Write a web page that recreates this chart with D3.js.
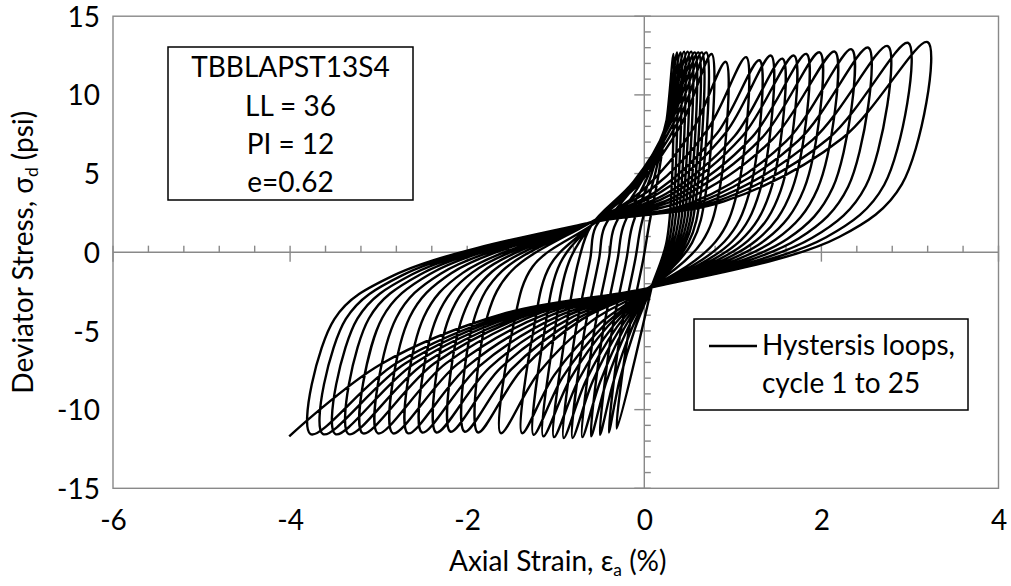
<!DOCTYPE html>
<html><head><meta charset="utf-8">
<script src="https://cdn.jsdelivr.net/npm/d3@7"></script>
<style>
html,body{margin:0;padding:0;background:#fff;}
svg{display:block;font-family:Lato,"Open Sans",sans-serif;}
</style></head><body>
<svg id="chart" width="1011" height="586"></svg>
<script>
// ---------- tick labels ----------
const xTickLabels = [-6, -4, -2, 0, 2, 4];
const yTickLabels = [-15, -10, -5, 0, 5, 10, 15];

// ---------- hysteresis loop key points (strain %, stress psi), cycles 1..25 ----------
const startPoint = [0.09, -2.05];
// bottom (compression) tips: start of each cycle, last one = end of record
const bottomTips = [[-0.31,-11.2],[-0.40,-11.45],[-0.50,-11.6],[-0.60,-11.7],[-0.70,-11.75],[-0.81,-11.8],[-0.91,-11.8],[-1.02,-11.75],[-1.14,-11.7],[-1.25,-11.6],[-1.38,-11.5],[-1.62,-11.5],[-1.88,-11.45],[-2.03,-11.4],[-2.19,-11.4],[-2.35,-11.45],[-2.51,-11.45],[-2.67,-11.5],[-2.84,-11.5],[-3.01,-11.5],[-3.18,-11.5],[-3.34,-11.55],[-3.49,-11.55],[-3.63,-11.55],[-3.77,-11.55],[-4.01,-11.7]];
// steep rise out of the bottom tip
const riseMid = [[-0.19,-5.5],[-0.28,-5.5],[-0.38,-5.5],[-0.48,-5.5],[-0.58,-5.5],[-0.69,-5.5],[-0.79,-5.5],[-0.90,-5.5],[-1.02,-5.3],[-1.13,-5.1],[-1.25,-4.9],[-1.48,-4.7],[-1.77,-4.02],[-1.91,-4.02],[-2.05,-4.04],[-2.20,-4.07],[-2.34,-4.08],[-2.49,-4.12],[-2.65,-4.13],[-2.80,-4.16],[-2.96,-4.18],[-3.11,-4.21],[-3.24,-4.22],[-3.37,-4.24],[-3.50,-4.25]];
const riseKnee = [[-0.01,-0.4],[-0.10,-0.4],[-0.20,-0.4],[-0.30,-0.4],[-0.40,-0.4],[-0.51,-0.4],[-0.61,-0.4],[-0.74,-0.5],[-0.85,-0.6],[-0.95,-0.7],[-1.06,-0.8],[-1.26,-0.9],[-1.50,-1.19],[-1.61,-1.21],[-1.72,-1.24],[-1.83,-1.26],[-1.94,-1.28],[-2.05,-1.31],[-2.18,-1.33],[-2.30,-1.36],[-2.42,-1.38],[-2.53,-1.41],[-2.63,-1.43],[-2.73,-1.45],[-2.83,-1.47]];
// upper pinch where the loading branch turns up
const upPinch = [[0.05,1.6],[-0.04,1.6],[-0.14,1.6],[-0.24,1.6],[-0.34,1.6],[-0.45,1.6],[-0.55,1.6],[-0.60,1.7],[-0.60,1.7],[-0.60,1.7],[-0.60,1.7],[-0.60,1.7],[-0.62,1.85],[-0.62,1.85],[-0.62,1.85],[-0.62,1.85],[-0.62,1.85],[-0.62,1.85],[-0.64,1.85],[-0.64,1.85],[-0.64,1.85],[-0.64,1.85],[-0.64,1.85],[-0.64,1.85],[-0.64,1.85]];
// loading branch
const loadLow = [[0.16,4.9],[0.12,4.93],[0.08,4.93],[0.04,4.83],[-0.01,4.72],[-0.06,4.61],[-0.10,4.49],[-0.12,4.5],[-0.10,4.45],[-0.08,4.43],[-0.06,4.35],[0.01,4.09],[0.09,4.07],[0.15,3.92],[0.20,3.87],[0.25,3.73],[0.30,3.66],[0.36,3.57],[0.41,3.48],[0.48,3.38],[0.55,3.18],[0.63,3.19],[0.72,3.2],[0.81,3.22],[0.90,3.23]];
const loadHigh = [[0.26,8.75],[0.27,8.82],[0.27,8.82],[0.28,8.74],[0.28,8.62],[0.29,8.51],[0.29,8.37],[0.31,8.36],[0.34,8.3],[0.38,8.28],[0.42,8.16],[0.54,7.73],[0.71,7.76],[0.82,7.54],[0.92,7.6],[1.02,7.39],[1.11,7.39],[1.22,7.33],[1.33,7.28],[1.45,7.19],[1.60,7.04],[1.74,7.09],[1.90,7.14],[2.08,7.23],[2.24,7.26]];
// top (extension) tips
const topTips = [[0.33,12.6],[0.37,12.7],[0.41,12.7],[0.45,12.75],[0.49,12.75],[0.53,12.75],[0.57,12.7],[0.61,12.7],[0.65,12.7],[0.70,12.7],[0.76,12.6],[0.92,12.1],[1.15,12.4],[1.30,12.2],[1.43,12.5],[1.56,12.3],[1.69,12.5],[1.83,12.6],[1.98,12.7],[2.15,12.75],[2.34,12.9],[2.53,13.0],[2.75,13.1],[2.98,13.3],[3.20,13.35]];
// steep unloading from the top tip
const dropMid = [[0.306,3.81],[0.342,3.84],[0.378,3.84],[0.415,3.86],[0.451,3.87],[0.487,3.87],[0.524,3.86],[0.56,3.86],[0.596,3.87],[0.641,3.87],[0.696,3.85],[0.841,3.72],[1.05,3.83],[1.186,3.79],[1.304,3.89],[1.422,3.85],[1.54,3.92],[1.667,3.96],[1.803,4.01],[1.957,4.04],[2.129,4.11],[2.302,4.16],[2.501,4.21],[2.71,4.29],[2.91,4.33]];
const dropKnee = [[0.247,0.54],[0.274,0.55],[0.301,0.55],[0.328,0.56],[0.356,0.56],[0.383,0.57],[0.41,0.58],[0.437,0.58],[0.464,0.59],[0.498,0.6],[0.539,0.6],[0.648,0.63],[0.804,0.66],[0.906,0.68],[0.995,0.7],[1.083,0.72],[1.172,0.74],[1.267,0.76],[1.369,0.79],[1.484,0.81],[1.614,0.84],[1.743,0.87],[1.892,0.9],[2.049,0.94],[2.20,0.97]];
// lower pinch where the unloading branch turns down
const downPinch = [[0.09,-2.05],[0.09,-2.05],[0.09,-2.05],[0.09,-2.05],[0.09,-2.05],[0.09,-2.05],[0.09,-2.05],[0.08,-2.15],[0.08,-2.15],[0.08,-2.15],[0.08,-2.15],[0.08,-2.15],[0.07,-2.25],[0.07,-2.25],[0.07,-2.25],[0.07,-2.25],[0.07,-2.25],[0.07,-2.25],[0.07,-2.25],[0.07,-2.25],[0.07,-2.25],[0.07,-2.25],[0.07,-2.25],[0.07,-2.25],[0.07,-2.25]];
// compression branch towards the next bottom tip
const unloadLow = [[-0.106,-4.87],[-0.146,-4.92],[-0.19,-4.90],[-0.23,-4.86],[-0.27,-4.82],[-0.31,-4.76],[-0.354,-4.70],[-0.41,-4.69],[-0.45,-4.62],[-0.50,-4.52],[-0.60,-4.39],[-0.70,-4.25],[-0.77,-4.25],[-0.83,-4.17],[-0.90,-4.10],[-0.96,-4.03],[-1.03,-3.95],[-1.09,-3.87],[-1.16,-3.82],[-1.23,-3.82],[-1.29,-3.83],[-1.35,-3.83],[-1.41,-3.83],[-1.47,-3.83],[-1.56,-3.86]];
const unloadHigh = [[-0.28,-8.16],[-0.35,-8.26],[-0.43,-8.27],[-0.50,-8.26],[-0.585,-8.23],[-0.66,-8.17],[-0.74,-8.09],[-0.835,-8.03],[-0.92,-7.92],[-1.015,-7.79],[-1.195,-7.67],[-1.39,-7.51],[-1.505,-7.46],[-1.625,-7.37],[-1.745,-7.32],[-1.865,-7.25],[-1.985,-7.19],[-2.11,-7.11],[-2.24,-7.06],[-2.37,-7.06],[-2.49,-7.09],[-2.60,-7.09],[-2.705,-7.09],[-2.81,-7.09],[-2.99,-7.16]];

const boxLines = ["TBBLAPST13S4", "LL = 36", "PI = 12", "e=0.62"];
const legendLines = ["Hystersis loops,", "cycle 1 to 25"];

// ---------- layout ----------
const plot = {left: 113, right: 998.5, top: 16.2, bottom: 488.3};
const axisGray = "#898989";
const FONT = 28;

const svg = d3.select("#chart");
const x = d3.scaleLinear().domain([-6, 4]).range([plot.left, plot.right]);
const y = d3.scaleLinear().domain([-15, 15]).range([plot.bottom, plot.top]);

// plot frame
svg.append("rect")
  .attr("x", plot.left).attr("y", plot.top)
  .attr("width", plot.right - plot.left).attr("height", plot.bottom - plot.top)
  .attr("fill", "none").attr("stroke", axisGray).attr("stroke-width", 1.4);

// axis lines through the origin
const g = svg.append("g");
g.append("line").attr("x1", plot.left).attr("x2", plot.right)
  .attr("y1", y(0)).attr("y2", y(0)).attr("stroke", axisGray).attr("stroke-width", 1.4);
g.append("line").attr("x1", x(0)).attr("x2", x(0))
  .attr("y1", plot.top).attr("y2", plot.bottom).attr("stroke", axisGray).attr("stroke-width", 1.4);

// x ticks on the y=0 line (minor every 0.4, major every 2)
const xMinor = d3.range(0, 26).map(k => -6 + k * 0.4).filter((v, k) => k % 5 !== 0);
g.selectAll(".xminor").data(xMinor).enter().append("line")
  .attr("x1", d => x(d)).attr("x2", d => x(d))
  .attr("y1", y(0)).attr("y2", y(0) - 6.6)
  .attr("stroke", axisGray).attr("stroke-width", 1.4);
g.selectAll(".xmajor").data(xTickLabels).enter().append("line")
  .attr("x1", d => x(d)).attr("x2", d => x(d))
  .attr("y1", y(0) - 6.6).attr("y2", y(0) + 9.4)
  .attr("stroke", axisGray).attr("stroke-width", 1.4);
// y ticks on the x=0 line (minor every 1, major every 5)
const yMinor = d3.range(-15, 15.001, 1).filter(v => v % 5 !== 0);
g.selectAll(".yminor").data(yMinor).enter().append("line")
  .attr("x1", x(0)).attr("x2", x(0) + 6.5)
  .attr("y1", d => y(d)).attr("y2", d => y(d))
  .attr("stroke", axisGray).attr("stroke-width", 1.4);
g.selectAll(".ymajor").data(yTickLabels).enter().append("line")
  .attr("x1", x(0) - 10).attr("x2", x(0) + 6.5)
  .attr("y1", d => y(d)).attr("y2", d => y(d))
  .attr("stroke", axisGray).attr("stroke-width", 1.4);

// tick labels via d3 axes (plain hyphen minus, as in the original)
const fmt = d => String(d);
const xAxis = d3.axisBottom(x).tickValues(xTickLabels).tickSize(0).tickPadding(0).tickFormat(fmt);
const xa = svg.append("g").attr("transform", `translate(0,${plot.bottom + 22})`).call(xAxis);
xa.select(".domain").remove();
xa.selectAll("text").attr("font-size", FONT).attr("font-family", "Lato").attr("fill", "#000")
  .attr("dy", "0.71em");

const yAxis = d3.axisLeft(y).tickValues(yTickLabels).tickSize(0).tickPadding(0).tickFormat(fmt);
const ya = svg.append("g").attr("transform", `translate(${plot.left - 13},0)`).call(yAxis);
ya.select(".domain").remove();
ya.selectAll("text").attr("font-size", FONT).attr("font-family", "Lato").attr("fill", "#000")
  .attr("dy", "0.36em");

// axis titles
const xt = svg.append("text").attr("x", (plot.left + plot.right) / 2 + 2).attr("y", 571)
  .attr("text-anchor", "middle").attr("font-size", FONT).attr("fill", "#000");
xt.append("tspan").text("Axial Strain, ε");
xt.append("tspan").attr("font-size", FONT * 0.62).attr("dy", 5).text("a");
xt.append("tspan").attr("dy", -5).text(" (%)");

const yt = svg.append("text")
  .attr("transform", `translate(33,${(plot.top + plot.bottom) / 2}) rotate(-90)`)
  .attr("text-anchor", "middle").attr("font-size", FONT).attr("fill", "#000");
yt.append("tspan").text("Deviator Stress, σ");
yt.append("tspan").attr("font-size", FONT * 0.62).attr("dy", 5).text("d");
yt.append("tspan").attr("dy", -5).text(" (psi)");

// ---------- the hysteresis path ----------
const pts = [startPoint];
for (let i = 0; i < topTips.length; i++) {
  pts.push(bottomTips[i], riseMid[i], riseKnee[i], upPinch[i], loadLow[i], loadHigh[i],
           topTips[i], dropMid[i], dropKnee[i], downPinch[i], unloadLow[i], unloadHigh[i]);
}
pts.push(bottomTips[bottomTips.length - 1]);

svg.append("clipPath").attr("id", "plotclip").append("rect")
  .attr("x", plot.left).attr("y", plot.top)
  .attr("width", plot.right - plot.left).attr("height", plot.bottom - plot.top);

const line = d3.line().x(d => x(d[0])).y(d => y(d[1])).curve(d3.curveCatmullRom.alpha(0.5));
svg.append("path").datum(pts).attr("d", line)
  .attr("fill", "none").attr("stroke", "#000").attr("stroke-width", 2.4)
  .attr("stroke-linejoin", "round").attr("clip-path", "url(#plotclip)");

// ---------- info box ----------
const box = svg.append("g");
box.append("rect").attr("x", 168).attr("y", 47).attr("width", 245).attr("height", 153)
  .attr("fill", "#fff").attr("stroke", "#000").attr("stroke-width", 1.5);
box.selectAll("text").data(boxLines).enter().append("text")
  .attr("x", 290.5).attr("y", (d, i) => 77.3 + i * 38.2)
  .attr("text-anchor", "middle").attr("font-size", FONT).attr("fill", "#000").text(d => d);

// ---------- legend ----------
const leg = svg.append("g");
leg.append("rect").attr("x", 694).attr("y", 319).attr("width", 274).attr("height", 91)
  .attr("fill", "#fff").attr("stroke", "#000").attr("stroke-width", 1.5);
leg.append("line").attr("x1", 709).attr("x2", 757).attr("y1", 346).attr("y2", 346)
  .attr("stroke", "#000").attr("stroke-width", 2.4);
leg.selectAll("text").data(legendLines).enter().append("text")
  .attr("x", 762).attr("y", (d, i) => 355 + i * 37.7)
  .attr("font-size", FONT).attr("fill", "#000").text(d => d);
</script>
</body></html>
